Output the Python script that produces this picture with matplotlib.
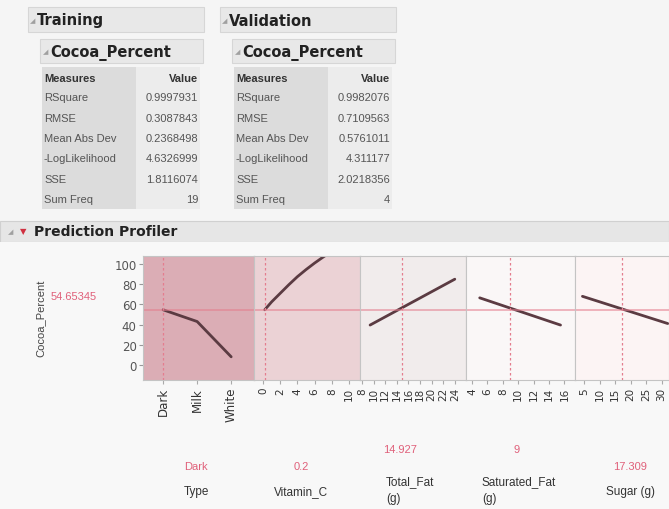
import matplotlib
matplotlib.use('Agg')
import matplotlib.pyplot as plt
from matplotlib.patches import Rectangle

# 표 데이터
measures = ['RSquare', 'RMSE', 'Mean Abs Dev', '-LogLikelihood', 'SSE', 'Sum Freq']
train_values = ['0.9997931', '0.3087843', '0.2368498', '4.6326999', '1.8116074', '19']
valid_values = ['0.9982076', '0.7109563', '0.5761011', '4.311177', '2.0218356', '4']

# profiler 데이터
type_levels = ['Dark', 'Milk', 'White']
type_pred = [54.65, 43, 8]
vitc_x = [0.2, 1, 2, 3, 4, 5, 6, 7, 8]
vitc_pred = [54.65, 62.5, 71, 79.5, 87.5, 94.5, 101, 107, 112.5]
fat_x = [9.4, 24]
fat_pred = [39.5, 85]
satfat_x = [5, 15.5]
satfat_pred = [66.5, 39.5]
sugar_x = [4.5, 32]
sugar_pred = [68, 41]

vitc_ticks = [0, 2, 4, 6, 8, 10]
fat_ticks = [8, 10, 12, 14, 16, 18, 20, 22, 24]
satfat_ticks = [4, 6, 8, 10, 12, 14, 16]
sugar_ticks = [5, 10, 15, 20, 25, 30]
y_ticks = [0, 20, 40, 60, 80, 100]

current = ['Dark', '0.2', '14.927', '9', '17.309']
current_x = [0, 0.2, 14.927, 9, 17.309]
pred_now = 54.65345
factor_names = ['Type', 'Vitamin_C', 'Total_Fat\n(g)', 'Saturated_Fat\n(g)', 'Sugar (g)']

W, H = 669, 510
fig = plt.figure(figsize=(W / 100, H / 100), dpi=100, facecolor='#f5f5f5')
FONT = ['Liberation Sans', 'DejaVu Sans']


def fx(x):
    return x / W


def fy(y):
    return 1 - y / H


def box(x0, y0, x1, y1, fc, ec='none', lw=0.8):
    fig.patches.append(Rectangle((fx(x0), fy(y1)), (x1 - x0) / W, (y1 - y0) / H,
                                 transform=fig.transFigure, fc=fc, ec=ec, lw=lw, zorder=-5))


def txt(x, y, s, **kw):
    kw.setdefault('family', FONT)
    fig.text(fx(x), fy(y), s, **kw)


# 상단 표 2개
def table(x0, title, values):
    box(x0, 8, x0 + 176, 33, '#e8e8e8', '#d6d6d6')
    txt(x0 + 2, 21, '◢', fontsize=5, color='#a0a0a0', va='center', family='DejaVu Sans')
    txt(x0 + 9, 21, title, fontsize=10.5, weight='bold', color='#222', va='center', family='DejaVu Sans')
    box(x0 + 12, 40, x0 + 175, 64, '#e8e8e8', '#d6d6d6')
    txt(x0 + 15, 52, '◢', fontsize=5, color='#a0a0a0', va='center', family='DejaVu Sans')
    txt(x0 + 22, 53, 'Cocoa_Percent', fontsize=10.5, weight='bold', color='#222', va='center', family='DejaVu Sans')
    # 표 배경
    box(x0 + 14, 68, x0 + 108, 210, '#dcdcdc')
    box(x0 + 108, 68, x0 + 172, 210, '#ececec')
    txt(x0 + 16, 79, 'Measures', fontsize=8, weight='bold', color='#333', va='center')
    txt(x0 + 170, 79, 'Value', fontsize=8, weight='bold', color='#333', va='center', ha='right')
    for i, (m, v) in enumerate(zip(measures, values)):
        y = 98 + i * 20.5
        txt(x0 + 16, y, m, fontsize=8, color='#555', va='center')
        txt(x0 + 170, y, v, fontsize=8, color='#555', va='center', ha='right')


table(28, 'Training', train_values)
table(220, 'Validation', valid_values)

# Prediction Profiler 헤더
box(0, 222, W, 243, '#e6e6e6', '#d0d0d0')
box(0, 243, W, H, '#f8f8f8')
txt(8, 232, '◢', fontsize=5, color='#a0a0a0', va='center', family='DejaVu Sans')
txt(20, 232, '▼', fontsize=6, color='#d03040', va='center', family='DejaVu Sans')
txt(34, 232, 'Prediction Profiler', fontsize=10, weight='bold', color='#222', va='center', family='DejaVu Sans')

# 패널 배치
edges = [143, 254, 360, 466, 575, 669]
top, bottom = 257, 381
bgs = ['#dbadb5', '#ebd2d5', '#f1ecec', '#faf7f7', '#fcf4f4']
xlims = [(-0.59, 2.67), (-1.05, 11.28), (7.66, 25.93), (3.22, 17.38), (2.1, 32.4)]
xs = [[0, 1, 2], vitc_x, fat_x, satfat_x, sugar_x]
ys = [type_pred, vitc_pred, fat_pred, satfat_pred, sugar_pred]
ticks = [[0, 1, 2], vitc_ticks, fat_ticks, satfat_ticks, sugar_ticks]
line_c = '#5b3b42'
cross_c = '#e47d8e'

for i in range(5):
    ax = fig.add_axes([fx(edges[i]), fy(bottom), (edges[i + 1] - edges[i]) / W, (bottom - top) / H])
    ax.set_facecolor(bgs[i])
    ax.set_xlim(*xlims[i])
    ax.set_ylim(-15, 108)
    ax.plot(xs[i], ys[i], color=line_c, lw=2, solid_capstyle='round', clip_on=True)
    ax.axhline(pred_now, color=cross_c, lw=1.1, alpha=0.7)
    ax.axvline(current_x[i], color=cross_c, lw=0.9, ls=(0, (2, 2)))
    ax.set_xticks(ticks[i])
    if i == 0:
        ax.set_xticklabels(type_levels, rotation=90, fontsize=8.5, color='#333', family='DejaVu Sans')
        ax.set_yticks(y_ticks)
        ax.set_yticklabels([str(t) for t in y_ticks], fontsize=8.5, color='#555')
        ax.tick_params(axis='y', length=3, color='#999', pad=1.5)
    else:
        ax.set_xticklabels([str(t) for t in ticks[i]], rotation=90, fontsize=7.5, color='#333')
        ax.set_yticks([])
    ax.tick_params(axis='x', length=3, color='#aaa', pad=2)
    for s in ax.spines.values():
        s.set_color('#c4c4c4')
        s.set_linewidth(0.8)

# 왼쪽 y 라벨과 현재 예측값
txt(41, 318, 'Cocoa_Percent', fontsize=8, color='#444', rotation=90, va='center', ha='center')
txt(74, 297, '54.65345', fontsize=8, color='#e0607a', va='center', ha='center')

# 하단 현재값 / 요인 이름
lab_x = [196, 301, 400, 517, 630]
name_x = [196, 301, 386, 482, 630]
val_y = [467, 467, 450, 450, 467]
for i in range(5):
    txt(lab_x[i], val_y[i], current[i], fontsize=8, color='#e0607a', ha='center', va='center')
    if '\n' in factor_names[i]:
        txt(name_x[i], 476, factor_names[i], fontsize=8.5, color='#333', ha='left', va='top', linespacing=1.6)
    else:
        txt(name_x[i], 492, factor_names[i], fontsize=8.5, color='#333', ha='center', va='center')

fig.savefig('out.png', dpi=100, facecolor=fig.get_facecolor())
